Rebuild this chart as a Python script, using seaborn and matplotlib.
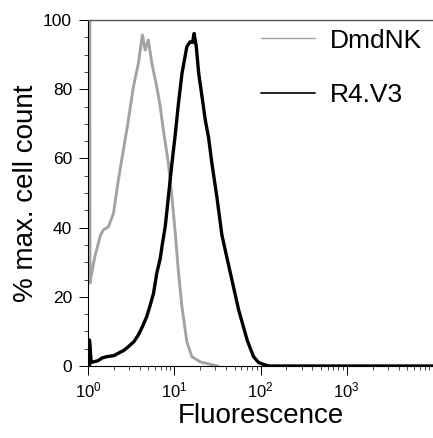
import numpy as np
import pandas as pd
import matplotlib
matplotlib.use("Agg")
import matplotlib.pyplot as plt
from matplotlib.ticker import FixedLocator, LogFormatterSciNotation, MultipleLocator
import seaborn as sns

# DmdNK histogram (grey)
dmdnk_x = [1.05, 1.055, 1.07, 1.2, 1.38, 1.5, 1.72, 1.97, 2.25, 2.69, 2.94, 3.36, 3.84, 4.27,
           4.6, 5.0, 5.5, 6.27, 6.87, 7.5, 8.55, 9.4, 10.3, 10.7, 11.2, 12.3, 14.0, 16.0,
           20.0, 26.0, 32.0]
dmdnk_y = [100, 24, 25, 31.6, 37.4, 39.3, 40.2, 44, 53.8, 65.3, 71.1, 80.7, 87.5, 95.7,
           91.3, 94.2, 87.5, 80.7, 75, 68, 58.6, 48.9, 38, 33, 27, 17, 7, 2.7,
           1.2, 0.5, 0]

# R4.V3 histogram (black)
r4v3_x = [1.04, 1.04, 1.09, 1.15, 1.3, 1.45, 1.65, 2.0, 2.25, 2.6, 2.94, 3.4, 3.84, 4.3,
          4.8, 5.25, 5.75, 6.27, 6.87, 7.2, 7.86, 8.55, 9.4, 10.3, 11.2, 12.3, 14.0, 15.3,
          16.3, 17.0, 18.0, 19.2, 21.0, 22.9, 25.0, 27.3, 31.2, 35.6, 39.0, 44.8, 55.8,
          70.0, 83.0, 95.0, 110.0, 125.0, 10000.0]
r4v3_y = [0, 7.5, 1.0, 1.2, 1.5, 2.3, 2.7, 3.0, 3.7, 4.5, 5.6, 7, 9, 11.5,
          14.3, 17.5, 21, 26.8, 31, 34.5, 40.3, 48.9, 58.6, 67.2, 76, 84.6, 92.3, 93.7,
          93.5, 96.1, 92.3, 84.6, 77.8, 71.1, 66, 58.6, 48.9, 38, 33.5, 26.8, 16.2,
          7.5, 2.7, 1.0, 0.4, 0, 0]

samples = ["DmdNK", "R4.V3"]
colors = {"DmdNK": "#a3a3a3", "R4.V3": "black"}

df = pd.concat([
    pd.DataFrame({"fl": dmdnk_x, "pct": dmdnk_y, "sample": "DmdNK"}),
    pd.DataFrame({"fl": r4v3_x, "pct": r4v3_y, "sample": "R4.V3"}),
], ignore_index=True)

sns.set_style("ticks")
plt.rcParams["font.family"] = ["Liberation Sans", "DejaVu Sans"]
plt.rcParams["mathtext.default"] = "regular"
plt.rcParams["text.color"] = "black"
plt.rcParams["axes.labelcolor"] = "black"
plt.rcParams["xtick.color"] = "black"
plt.rcParams["ytick.color"] = "black"

fig = plt.figure(figsize=(4.33, 4.38), dpi=100)
ax = fig.add_axes([88/433, 1-366/438, 345/433, 346/438])

sns.lineplot(data=df, x="fl", y="pct", hue="sample", hue_order=samples, palette=colors,
             sort=False, estimator=None, linewidth=2.2, ax=ax)
ax.lines[0].set_linewidth(2.1)
ax.lines[1].set_linewidth(2.4)

ax.set_xscale("log")
ax.set_xlim(1, 10000)
ax.set_ylim(0, 100)
ax.xaxis.set_major_locator(FixedLocator([1, 10, 100, 1000]))
ax.xaxis.set_major_formatter(LogFormatterSciNotation())
minors = [m * 10**d for d in range(4) for m in range(2, 10)]
ax.xaxis.set_minor_locator(FixedLocator(minors))
ax.yaxis.set_major_locator(MultipleLocator(20))
ax.yaxis.set_minor_locator(MultipleLocator(5))

ax.tick_params(which="major", length=6.5, width=0.7, colors="black", labelsize=12.5, pad=5)
ax.tick_params(which="minor", length=3, width=0.7, color="#444444")
ax.tick_params(axis="x", which="major", labelsize=12, pad=4)

for s in ["left", "bottom"]:
    ax.spines[s].set_linewidth(0.8)
    ax.spines[s].set_color("black")
ax.spines["top"].set_linewidth(1.0)
ax.spines["top"].set_color("#555555")
ax.spines["right"].set_visible(False)

ax.set_xlabel("Fluorescence", fontsize=20, labelpad=2)
ax.set_ylabel("% max. cell count", fontsize=20, labelpad=3)

leg = ax.legend(loc="upper left", bbox_to_anchor=(0.501, 0.975), frameon=False,
                fontsize=19, handlelength=2.07, handletextpad=0.53, labelspacing=1.15,
                borderpad=0, borderaxespad=0)
leg.get_lines()[0].set_linewidth(1.0)
leg.get_lines()[1].set_linewidth(1.2)

fig.savefig("out.png", dpi=100)
